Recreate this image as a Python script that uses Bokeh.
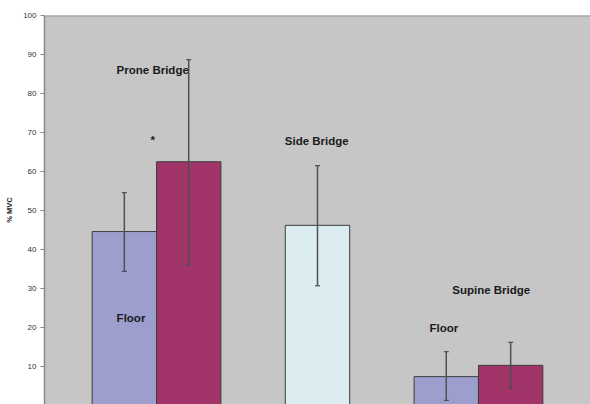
from bokeh.plotting import figure
from bokeh.models import ColumnDataSource, Range1d, Whisker, TeeHead, Span
from bokeh.core.properties import value
from bokeh.embed import file_html
from bokeh.resources import INLINE

# ---- data ----
categories = ["Prone Bridge", "Side Bridge", "Supine Bridge"]
bar_group = ["Prone Bridge", "Prone Bridge", "Side Bridge", "Supine Bridge", "Supine Bridge"]
bar_series = ["Floor", "Ball", "Side", "Floor", "Ball"]
bar_mean = [44.6, 62.5, 46.2, 7.4, 10.3]
bar_low = [34.4, 36.0, 30.7, 1.3, 4.4]
bar_high = [54.6, 88.7, 61.5, 13.8, 16.2]
y_ticks = [0, 10, 20, 30, 40, 50, 60, 70, 80, 90, 100]

# ---- styling ----
series_color = {"Floor": "#9c9ecd", "Ball": "#a13468", "Side": "#dcedf1"}
series_offset = {"Floor": -0.2, "Ball": 0.2, "Side": 0.0}
BAR_W = 0.4

xs = [categories.index(g) + 1 + series_offset[s] for g, s in zip(bar_group, bar_series)]
src = ColumnDataSource(dict(
    x=xs, top=bar_mean, low=bar_low, high=bar_high,
    color=[series_color[s] for s in bar_series],
))

p = figure(width=590, height=404, output_backend="svg", toolbar_location=None,
           x_range=Range1d(0.304, 3.696), y_range=Range1d(100 - 389 / 3.9, 100),
           min_border_left=44, min_border_right=0, min_border_top=15, min_border_bottom=0)

p.background_fill_color = "#c5c6c5"
p.border_fill_color = "white"
p.outline_line_color = None
p.xgrid.visible = False
p.ygrid.visible = False
p.xaxis.visible = False

# top frame line (the right edge of the original chart is cut off)
p.add_layout(Span(location=y_ticks[-1], dimension="width",
                  line_color="#9a9a9a", line_width=2))

ax = p.yaxis[0]
ax.ticker = y_ticks
ax.axis_label = "% MVC"
ax.axis_label_text_font = "Liberation Sans"
ax.axis_label_text_font_size = "7.5px"
ax.axis_label_text_font_style = "bold"
ax.axis_label_text_color = "#222222"
ax.axis_label_standoff = 6
ax.major_label_text_font = "Liberation Sans"
ax.major_label_text_font_size = "8px"
ax.major_label_text_color = "#333333"
ax.major_label_standoff = 4
ax.major_tick_out = 4
ax.major_tick_in = 0
ax.minor_tick_out = 0
ax.minor_tick_in = 0
ax.axis_line_color = "#888888"
ax.axis_line_width = 1.5
ax.major_tick_line_color = "#888888"

p.vbar(x="x", top="top", bottom=0, width=BAR_W, source=src,
       fill_color="color", line_color="#3c3c3c", line_width=1)

wh = Whisker(base="x", upper="high", lower="low", source=src, level="overlay",
             line_color="#505050", line_width=1.5,
             upper_head=TeeHead(size=5, line_color="#505050", line_width=1.2),
             lower_head=TeeHead(size=5, line_color="#505050", line_width=1.2))
p.add_layout(wh)

# ---- annotations ----
ann_text = ["Prone Bridge", "*", "Side Bridge", "Supine Bridge", "Floor", "Floor"]
ann_x = [0.752, 0.963, 1.797, 2.837, 0.752, 2.696]
ann_y = [85.9, 68.0, 67.8, 29.7, 22.4, 19.8]
ann_src = ColumnDataSource(dict(x=ann_x, y=ann_y, t=ann_text))
p.text(x="x", y="y", text="t", source=ann_src, text_align="left",
       text_baseline="alphabetic", text_font=value("Liberation Sans"),
       text_font_size="11.5px", text_font_style="bold", text_color="#1a1a1a")

open("out.html", "w").write(file_html(p, INLINE))
